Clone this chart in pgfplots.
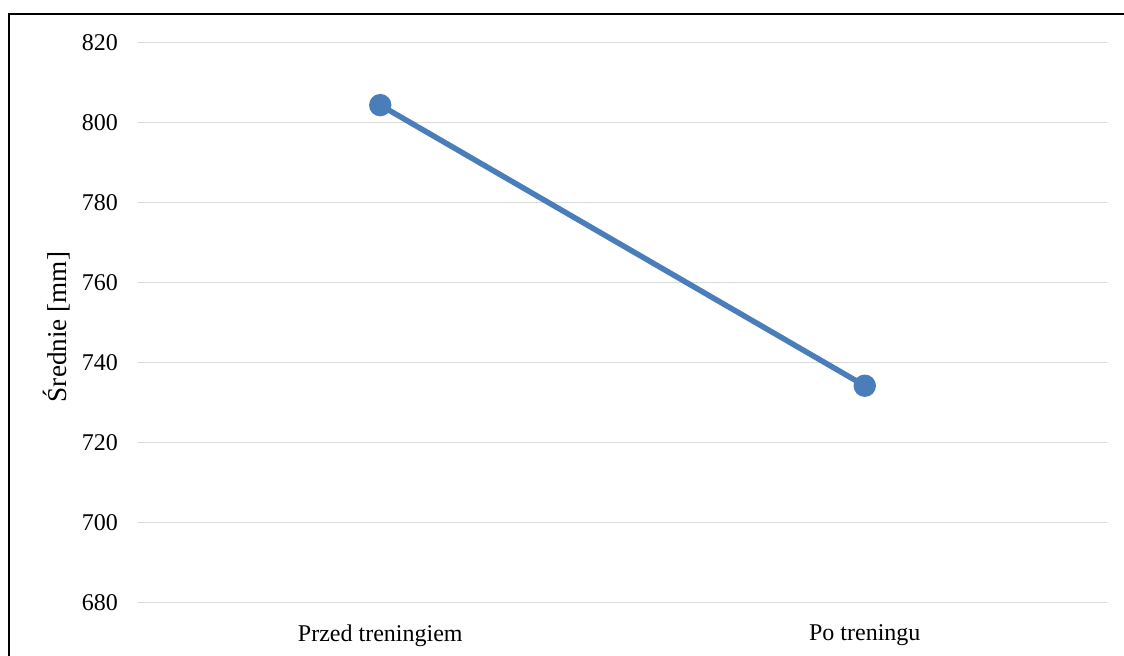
\documentclass[border=0pt]{standalone}
\usepackage{fontspec}
\setmainfont{Liberation Serif}
\usepackage{pgfplots}
\pgfplotsset{compat=1.18}

\definecolor{seriesblue}{RGB}{74,126,187}
\definecolor{gridgray}{RGB}{217,217,217}

\begin{document}
\begin{tikzpicture}
\begin{axis}[
    scale only axis,
    width=484.5pt,
    height=280.2pt,
    xmin=-0.5, xmax=1.5,
    ymin=680, ymax=820,
    xtick={0,1},
    xticklabels={Przed treningiem, Po treningu},
    ytick={680,700,...,820},
    ymajorgrids,
    grid style={gridgray, line width=0.75pt},
    axis line style={draw=none},
    major tick length=0pt,
    tick label style={font=\fontsize{12}{14}\selectfont},
    yticklabel style={xshift=-6.5pt},
    xticklabel style={yshift=-7.5pt},
    /pgf/number format/assume math mode=true,
    ylabel={Średnie [mm]},
    ylabel style={font=\fontsize{13.6}{16}\selectfont, at={(axis description cs:0,0.5)}, anchor=center, yshift=40.5pt, xshift=-2.25pt},
    clip=false,
]
\addplot[seriesblue, line width=2.75pt, mark=*, mark size=4.2pt,
         mark options={fill=seriesblue, draw=none}]
    coordinates {(0,804.3) (1,734.2)};
\end{axis}
% outer frame (top and left edges)
\draw[line width=1pt, black] (-64.5pt,-26.65pt) -- (-64.5pt,294.35pt) -- (493pt,294.35pt);
\pgfresetboundingbox
\useasboundingbox (-69pt,-26.65pt) rectangle (493pt,301.35pt);
\end{tikzpicture}
\end{document}
